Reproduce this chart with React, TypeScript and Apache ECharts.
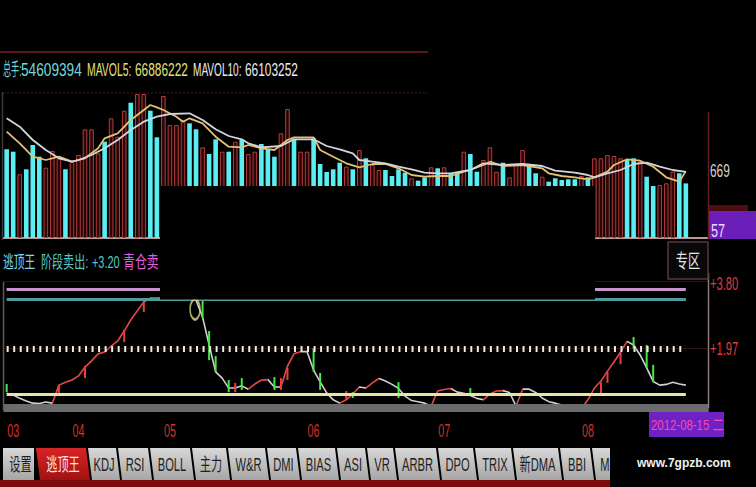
import { useEffect, useRef } from 'react';
import * as echarts from 'echarts';

// Trading-day slots on the time axis; the last few stay empty on the right.
const SLOT_COUNT = 108;

const monthLabels = ['03', '04', '05', '06', '07', '08'];
const monthSlots = [1, 11, 25, 47, 67, 89];

// 成交量 per day, in units of 十万手 (100,000 lots)
const volume = [
  887, 863, 637, 687, 930, 813, 703, 870, 797, 687,
  763, 830, 1087, 1087, 847, 963, 1197, 1013, 1273, 1353,
  1440, 1440, 1273, 1007, 1420, 1130, 1130, 1180, 1147, 1087,
  907, 840, 987, 863, 863, 963, 980, 840, 863, 940,
  887, 813, 1047, 1290, 987, 863, 863, 997, 740, 660,
  687, 753, 713, 687, 880, 797, 730, 680, 680, 620,
  687, 653, 597, 573, 607, 707, 697, 707, 640, 647,
  863, 840, 663, 780, 907, 663, 753, 607, 730, 880,
  730, 647, 613, 563, 597, 580, 587, 587, 620, 607,
  797, 797, 830, 820, 797, 780, 797, 763, 613, 520,
  530, 547, 663, 647, 546.09394,
];

// 1 = closed up (red), 0 = closed down (cyan)
const closedUp = [
  0, 0, 1, 0, 0, 0, 1, 1, 1, 0,
  1, 1, 1, 1, 1, 0, 1, 1, 1, 0,
  1, 1, 0, 0, 1, 1, 1, 1, 0, 0,
  1, 0, 0, 1, 0, 1, 0, 1, 1, 0,
  0, 0, 1, 1, 0, 1, 1, 0, 0, 0,
  0, 0, 1, 0, 1, 0, 1, 1, 0, 0,
  0, 0, 1, 0, 0, 1, 0, 1, 0, 0,
  1, 0, 0, 1, 1, 1, 0, 1, 1, 1,
  0, 0, 1, 0, 0, 0, 0, 0, 1, 0,
  1, 1, 1, 1, 1, 0, 0, 1, 0, 0,
  1, 1, 1, 0, 0,
];

// Volume moving averages as [slot, value]
const mavol5 = [
  [0, 1063], [2, 947], [4, 813], [6, 780], [8, 813], [10, 763], [12, 797], [14, 897],
  [15, 997], [17, 1047], [19, 1180], [22, 1330], [23, 1307], [24, 1280], [26, 1213],
  [27, 1163], [28, 1197], [30, 1147], [32, 1013], [34, 913], [36, 907], [37, 930],
  [39, 897], [41, 880], [43, 980], [44, 1007], [47, 1007], [48, 880], [50, 813],
  [52, 747], [54, 707], [56, 740], [58, 740], [60, 697], [62, 630], [64, 613],
  [66, 620], [68, 620], [70, 663], [71, 680], [73, 730], [74, 763], [76, 720],
  [79, 730], [82, 697], [83, 647], [85, 620], [87, 607], [89, 587], [90, 607],
  [92, 663], [93, 730], [95, 787], [97, 773], [99, 713], [101, 607], [103, 563],
  [104, 668.86222],
];
const mavol10 = [
  [0, 1197], [2, 1113], [4, 980], [6, 880], [8, 797], [10, 763], [11, 780], [13, 830],
  [15, 897], [17, 980], [19, 1080], [21, 1163], [23, 1213], [25, 1240], [28, 1247],
  [30, 1180], [32, 1087], [34, 1020], [36, 987], [37, 947], [39, 907], [42, 920],
  [44, 987], [47, 987], [49, 920], [51, 887], [53, 847], [54, 780], [56, 763],
  [58, 747], [60, 713], [62, 687], [64, 653], [66, 647], [68, 647], [71, 680],
  [73, 747], [76, 730], [79, 740], [82, 720], [84, 673], [87, 653], [89, 630],
  [90, 607], [92, 647], [94, 680], [96, 740], [98, 753], [100, 713], [102, 680],
  [104, 661.03252],
];

// Values flagged at the right edge of the volume pane
const volumeMarks = [669, 57];

// 逃顶王 indicator line
const signal = [
  0.75, 0.70, 0.61, 0.54, 0.48, 0.47, 0.51, 0.48, 0.97, 1.05,
  1.11, 1.22, 1.46, 1.63, 1.82, 1.87, 2.03, 2.17, 2.44, 2.74,
  2.99, 3.23, 3.33, 3.33, 3.34, 3.34, 3.33, 3.32, 3.31, 3.27,
  2.82, 2.06, 1.33, 1.16, 0.89, 0.89, 0.95, 0.86, 1.00, 1.11,
  1.12, 0.92, 0.92, 1.49, 1.82, 1.88, 1.88, 1.38, 1.06, 0.76,
  0.57, 0.48, 0.57, 0.73, 0.92, 0.89, 1.03, 1.15, 1.08, 0.99,
  0.88, 0.67, 0.55, 0.52, 0.48, 0.40, 0.81, 0.85, 0.88, 0.78,
  0.75, 0.69, 0.61, 0.57, 0.73, 0.81, 0.82, 0.77, 0.40, 0.86,
  0.86, 0.77, 0.62, 0.52, 0.48, 0.43, 0.38, 0.38, 0.32, 0.57,
  0.89, 1.08, 1.35, 1.60, 1.87, 2.16, 2.06, 1.79, 1.44, 1.07,
  0.97, 0.99, 1.05, 1.00, 0.97,
];
const risingSpans = [[7, 22], [37, 40], [42, 45], [51, 54], [55, 57], [65, 68], [73, 76], [78, 79], [88, 95]];
// Short signal sticks as [slot, from, to]
const redSticks = [
  [8, 0.97, 0.70], [12, 1.49, 1.16], [18, 2.47, 2.14], [21, 3.28, 2.96], [35, 1.03, 0.78],
  [42, 1.16, 0.84], [43, 1.44, 1.11], [52, 0.81, 0.57], [91, 1.05, 0.73], [92, 1.33, 1.03],
  [94, 1.87, 1.54],
];
const greenSticks = [
  [0, 1.00, 0.78], [30, 3.28, 2.80], [31, 2.44, 1.65], [32, 1.76, 1.33], [34, 1.11, 0.78],
  [36, 1.16, 0.84], [41, 1.19, 0.84], [47, 1.98, 1.33], [48, 1.30, 0.84], [53, 0.78, 0.62],
  [60, 1.05, 0.62], [71, 0.89, 0.70], [96, 2.28, 1.95], [98, 2.06, 1.44], [99, 1.52, 1.05],
];
const ringMarks = [[29, 3.03]];

// Indicator reference levels
const levelTop = 3.8;
const levelPink = 3.58;
const levelTeal = 3.31;
const levelMid = 1.97;
const levelYellow = 0.72;
const levelFloor = 0.36;
const stageSell = 3.2;

const currentDate = '2012-08-15 二';
const tabNames = ['设置', '逃顶王', 'KDJ', 'RSI', 'BOLL', '主力', 'W&R', 'DMI', 'BIAS', 'ASI', 'VR', 'ARBR', 'DPO', 'TRIX', '新DMA', 'BBI', 'M'];
const activeTab = 1;

const LATIN = "'Liberation Sans', 'Noto Sans CJK SC', sans-serif";

function text(t: string, x: number, y: number, fill: string, size: number, sx: number, z = 10, extra: any = {}) {
  return {
    type: 'text', x, y, scaleX: sx, z, silent: true,
    style: { text: t, fill, fontSize: size, fontFamily: LATIN, align: 'left', verticalAlign: 'middle', ...extra },
  };
}

export default function App() {
  const ref = useRef<HTMLDivElement>(null);

  useEffect(() => {
    document.body.style.margin = '0';
    document.body.style.background = '#000';
    if (!ref.current) return;
    const chart = echarts.init(ref.current, undefined, { renderer: 'svg' });

    const slots = Array.from({ length: SLOT_COUNT }, (_, i) => `D${i + 1}`);
    const last = volume.length - 1;
    const lots = (v: number) => String(Math.round(v * 1e5));

    const upStyle = { color: '#2c0606', borderColor: '#b43c3c', borderWidth: 1 };
    const downStyle = { color: '#5aeef2', borderWidth: 0 };

    const sticks = (data: number[][], color: string) => ({
      type: 'custom', xAxisIndex: 1, yAxisIndex: 1, z: 4, silent: true,
      data, encode: { x: 0, y: [1, 2] },
      renderItem: (_p: any, api: any) => {
        const a = api.coord([api.value(0), api.value(1)]);
        const b = api.coord([api.value(0), api.value(2)]);
        return { type: 'line', shape: { x1: a[0], y1: a[1], x2: b[0], y2: b[1] }, style: { stroke: color, lineWidth: 2 } };
      },
    });

    const seg = (value: number, color: string, width: number, type: any = 'solid') => [
      { xAxis: 0, yAxis: value, lineStyle: { color, width, type } },
      { xAxis: last, yAxis: value },
    ];

    chart.setOption({
      animation: false,
      backgroundColor: '#000',
      textStyle: { fontFamily: LATIN },
      grid: [
        { left: 3.4, top: 94, width: 705.3, height: 144, outerBoundsMode: 'none' },
        { left: 3.4, top: 270, width: 705.3, height: 150.8, outerBoundsMode: 'none' },
      ],
      xAxis: [
        {
          type: 'category', gridIndex: 0, data: slots, boundaryGap: true,
          axisLine: { lineStyle: { color: '#b89898', width: 2 } },
          axisTick: { show: false }, axisLabel: { show: false }, splitLine: { show: false },
        },
        {
          type: 'category', gridIndex: 1, data: slots, boundaryGap: true,
          axisLine: { show: false }, axisTick: { show: false }, splitLine: { show: false },
          axisLabel: { show: false },
        },
      ],
      yAxis: [
        { type: 'value', gridIndex: 0, min: 0, max: 1440, show: false },
        { type: 'value', gridIndex: 1, min: 0, max: 4.1, show: false },
      ],
      visualMap: [
        {
          type: 'piecewise', show: false, dimension: 0, seriesIndex: 4,
          pieces: risingSpans.map(([a, b]) => ({ gte: a, lte: b, color: '#e24848' })),
          outOfRange: { color: '#d0d0d0' },
        },
      ],
      series: [
        {
          type: 'bar', xAxisIndex: 0, yAxisIndex: 0, barWidth: 4.6, silent: true,
          data: volume.map((v, i) => ({ value: v, itemStyle: closedUp[i] ? upStyle : downStyle })),
        },
        {
          type: 'line', xAxisIndex: 0, yAxisIndex: 0, data: mavol5, showSymbol: false, silent: true,
          lineStyle: { color: '#e2c270', width: 1.8 },
        },
        {
          type: 'line', xAxisIndex: 0, yAxisIndex: 0, data: mavol10, showSymbol: false, silent: true,
          lineStyle: { color: '#d4d4dc', width: 1.8 },
        },
        {
          type: 'line', xAxisIndex: 1, yAxisIndex: 1, data: [], z: 1, silent: true,
          markLine: {
            silent: true, symbol: ['none', 'none'], label: { show: false },
            data: [
              { yAxis: levelTop, lineStyle: { color: '#6e1a1a', width: 1, type: 'dotted' } },
              { yAxis: levelMid, lineStyle: { color: '#6e1a1a', width: 1, type: 'dotted' } },
              { yAxis: levelFloor, lineStyle: { color: '#6c6c6c', width: 8, type: 'solid' } },
              seg(levelPink, '#c894cc', 3),
              seg(levelTeal, '#4f9a9c', 3),
              seg(levelYellow, '#e6e6a4', 3),
              seg(levelMid, '#ecece0', 6, [2, 4.53]),
            ],
          },
        },
        {
          type: 'line', xAxisIndex: 1, yAxisIndex: 1, data: signal, z: 3, showSymbol: false, silent: true,
          lineStyle: { width: 1.6 },
        },
        sticks(redSticks, '#e84040'),
        sticks(greenSticks, '#44e844'),
        {
          type: 'scatter', xAxisIndex: 1, yAxisIndex: 1, data: ringMarks, z: 5, silent: true,
          symbol: 'circle', symbolSize: [10, 20], symbolOffset: [-1, 0],
          itemStyle: { color: 'rgba(0,0,0,0)', borderColor: '#d8d88a', borderWidth: 2 },
        },
      ],
    });

    // Axis texts placed through the chart's own scales, drawn condensed
    const yVol = (v: number) => chart.convertToPixel({ yAxisIndex: 0 }, v) as number;
    const ySig = (v: number) => chart.convertToPixel({ yAxisIndex: 1 }, v) as number;
    const xSlot = (i: number) => chart.convertToPixel({ xAxisIndex: 1 }, i) as number;

    const axisTexts: any[] = [
      text(String(volumeMarks[0]), 710, yVol(volumeMarks[0]) - 1, '#d6d6d6', 18, 0.66, 11),
      text(String(volumeMarks[1]), 711, yVol(volumeMarks[1]) - 2, '#ecdcff', 18, 0.7, 11),
      text('+' + levelTop.toFixed(2), 710, ySig(levelTop) + 2, '#e43a3a', 18, 0.62, 11),
      text('+' + levelMid.toFixed(2), 710, ySig(levelMid), '#e43a3a', 18, 0.62, 11),
      ...monthLabels.map((m, k) => text(m, xSlot(monthSlots[k]), 430.5, '#d4302c', 18, 0.6, 11, { align: 'center' })),
    ];

    // Tab strip along the bottom
    const tabEdges = [3, 36, 88, 118, 150, 192, 228, 267, 298, 337, 367, 395, 438, 475, 513, 560, 592, 616];
    const tabTop = 448;
    const tabBottom = 480;
    const tabs: any[] = [];
    tabNames.forEach((name, i) => {
      const x0 = tabEdges[i];
      const x1 = tabEdges[i + 1] - 2;
      const active = i === activeTab;
      const fill = active
        ? new echarts.graphic.LinearGradient(0, 0, 0, 1, [{ offset: 0, color: '#d82424' }, { offset: 1, color: '#a01212' }])
        : new echarts.graphic.LinearGradient(0, 0, 0, 1, [{ offset: 0, color: '#d8d8d8' }, { offset: 1, color: '#a6a6a6' }]);
      if (i === 0) {
        tabs.push({ type: 'rect', z: 10, silent: true, shape: { x: x0, y: tabTop, width: x1 - x0, height: tabBottom - tabTop }, style: { fill } });
      } else {
        tabs.push({
          type: 'polygon', z: 10, silent: true,
          shape: { points: [[x0, tabTop], [x1, tabTop], [x1 + 4, tabBottom], [x0 + 4, tabBottom]] },
          style: { fill },
        });
      }
      tabs.push(text(name, (x0 + x1) / 2 + 2, 464, active ? '#ffe2e2' : '#1e1e1e', 18, 0.62, 11, { align: 'center' }));
    });

    const headerPieces = [
      { t: '总手:', x: 3, c: '#74d6dc', size: 18, sx: 0.45 },
      { t: lots(volume[last]), x: 21, c: '#74d6dc', size: 18, sx: 0.76 },
      { t: 'MAVOL5:', x: 87, c: '#e2e07a', size: 18, sx: 0.58 },
      { t: lots(mavol5[mavol5.length - 1][1]), x: 135, c: '#e2e07a', size: 18, sx: 0.66 },
      { t: 'MAVOL10:', x: 193, c: '#ececec', size: 18, sx: 0.56 },
      { t: lots(mavol10[mavol10.length - 1][1]), x: 245, c: '#ececec', size: 18, sx: 0.66 },
    ];
    const indicatorPieces = [
      { t: '逃顶王', x: 3, c: '#7cd8ee', size: 17, sx: 0.63 },
      { t: '阶段卖出:', x: 41, c: '#56c6c6', size: 17, sx: 0.65 },
      { t: '+' + stageSell.toFixed(2), x: 92, c: '#56c6c6', size: 17, sx: 0.64 },
      { t: '青仓卖', x: 123, c: '#e05ee0', size: 17, sx: 0.7 },
    ];

    const graphics: any[] = [
      { type: 'rect', z: 10, silent: true, shape: { x: 0, y: 51, width: 428, height: 2 }, style: { fill: '#5c1818' } },
      { type: 'line', z: 10, silent: true, shape: { x1: 3, y1: 93, x2: 428, y2: 93 }, style: { stroke: '#4a1616', lineWidth: 1, lineDash: [2, 2] } },
      { type: 'line', z: 10, silent: true, shape: { x1: 2.5, y1: 92, x2: 2.5, y2: 240 }, style: { stroke: '#3a3a3a', lineWidth: 1.5 } },
      { type: 'line', z: 10, silent: true, shape: { x1: 3.5, y1: 282, x2: 3.5, y2: 410 }, style: { stroke: '#5a5a5a', lineWidth: 1.5 } },
      { type: 'line', z: 10, silent: true, shape: { x1: 708.5, y1: 112, x2: 708.5, y2: 239 }, style: { stroke: '#6a1c1c', lineWidth: 1.5 } },
      { type: 'line', z: 10, silent: true, shape: { x1: 708.5, y1: 273, x2: 708.5, y2: 408 }, style: { stroke: '#8c7a7a', lineWidth: 1.5 } },
      // value flag behind the "57" mark
      { type: 'rect', z: 1, silent: true, shape: { x: 708, y: 205, width: 40, height: 7 }, style: { fill: '#4c0e12' } },
      { type: 'rect', z: 1, silent: true, shape: { x: 708, y: 211, width: 48, height: 28 }, style: { fill: '#6c1fb8' } },
      ...headerPieces.map((p) => text(p.t, p.x, 70, p.c, p.size, p.sx)),
      ...indicatorPieces.map((p) => text(p.t, p.x, 262, p.c, p.size, p.sx)),
      // 专区 button
      { type: 'rect', z: 10, silent: true, shape: { x: 668, y: 242, width: 40, height: 37 }, style: { fill: '#080808', stroke: '#55393a', lineWidth: 1.5 } },
      text('专区', 688, 261, '#e6e6e6', 19, 0.64, 11, { align: 'center' }),
      // covering panel
      { type: 'rect', z: 20, silent: true, shape: { x: 160, y: 186, width: 435, height: 113.5 }, style: { fill: '#000' } },
      // current date flag
      { type: 'rect', z: 10, silent: true, shape: { x: 649, y: 412, width: 75, height: 25 }, style: { fill: '#6e22c4' } },
      text(currentDate, 651, 425, '#f54aa8', 15, 0.76),
      ...axisTexts,
      ...tabs,
      { type: 'rect', z: 10, silent: true, shape: { x: 0, y: 480, width: 610, height: 7 }, style: { fill: '#7c0b0b' } },
      { type: 'rect', z: 12, silent: true, shape: { x: 610, y: 440, width: 146, height: 47 }, style: { fill: '#000' } },
      text('www.7gpzb.com', 637, 463, '#f2f2f2', 12, 1, 13, { fontWeight: 'bold' }),
    ];

    chart.setOption({ graphic: { elements: graphics } });

    return () => chart.dispose();
  }, []);

  return <div ref={ref} style={{ width: 756, height: 487, background: '#000' }} />;
}
